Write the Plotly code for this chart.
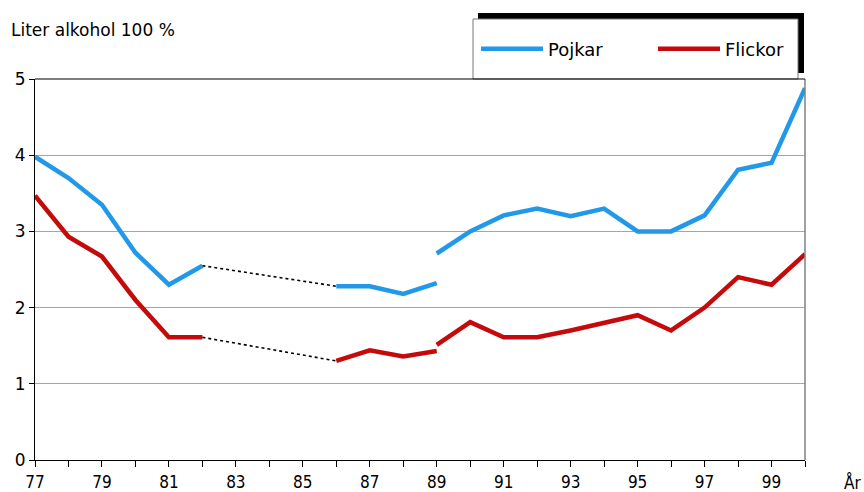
import plotly.graph_objects as go

# --- data ---
years_a = [77, 78, 79, 80, 81, 82]
pojkar_a = [3.98, 3.70, 3.35, 2.72, 2.30, 2.55]
flickor_a = [3.47, 2.93, 2.67, 2.10, 1.61, 1.61]

years_b = [86, 87, 88, 89]
pojkar_b = [2.28, 2.28, 2.18, 2.32]
flickor_b = [1.30, 1.44, 1.36, 1.43]

years_c = [89, 90, 91, 92, 93, 94, 95, 96, 97, 98, 99, 100]
pojkar_c = [2.71, 3.00, 3.21, 3.30, 3.20, 3.30, 3.00, 3.00, 3.21, 3.81, 3.90, 4.88]
flickor_c = [1.51, 1.81, 1.61, 1.61, 1.70, 1.80, 1.90, 1.70, 2.00, 2.40, 2.30, 2.70]

x_tickvals = [77, 79, 81, 83, 85, 87, 89, 91, 93, 95, 97, 99]
x_ticktext = ["77", "79", "81", "83", "85", "87", "89", "91", "93", "95", "97", "99"]

BLUE = "#2299E8"
RED = "#C40A0A"
LW = 4.5

fig = go.Figure()

series = [("Pojkar", BLUE, pojkar_a, pojkar_b, pojkar_c),
          ("Flickor", RED, flickor_a, flickor_b, flickor_c)]

for name, col, a, b, c in series:
    fig.add_trace(go.Scatter(x=years_a, y=a, mode="lines", name=name, legendgroup=name,
                             line=dict(color=col, width=LW), showlegend=True))
    fig.add_trace(go.Scatter(x=[years_a[-1], years_b[0]], y=[a[-1], b[0]], mode="lines",
                             legendgroup=name, showlegend=False,
                             line=dict(color="black", width=1.6, dash="dot")))
    fig.add_trace(go.Scatter(x=years_b, y=b, mode="lines", legendgroup=name, showlegend=False,
                             line=dict(color=col, width=LW)))
    fig.add_trace(go.Scatter(x=years_c, y=c, mode="lines", legendgroup=name, showlegend=False,
                             line=dict(color=col, width=LW)))

# plot area: x 35..805, y 79..460
W, H = 864, 492
L, R, T, B = 35, 59, 79, 32
pw, ph = W - L - R, H - T - B

def px_x(x):
    return (x - L) / pw

def px_y(y):
    return (H - B - y) / ph

shapes = [
    # legend shadow
    dict(type="rect", xref="paper", yref="paper", x0=px_x(478), x1=px_x(804), y0=px_y(73), y1=px_y(13),
         fillcolor="black", line=dict(width=0), layer="above"),
    # legend box
    dict(type="rect", xref="paper", yref="paper", x0=px_x(473), x1=px_x(798), y0=px_y(79), y1=px_y(19),
         fillcolor="white", line=dict(color="#777777", width=1), layer="above"),
    # right frame line
    dict(type="line", xref="paper", yref="paper", x0=1, x1=1, y0=0, y1=1,
         line=dict(color="#808080", width=1.5)),
    # top frame line
    dict(type="line", xref="paper", yref="paper", x0=0, x1=1, y0=1, y1=1,
         line=dict(color="black", width=1.2)),
]

fig.update_layout(
    width=W, height=H,
    margin=dict(l=L, r=R, t=T, b=B, autoexpand=False),
    paper_bgcolor="white", plot_bgcolor="white",
    font=dict(family="DejaVu Sans, Arial, sans-serif", size=16, color="black"),
    shapes=shapes,
    showlegend=True,
    legend=dict(orientation="h", x=px_x(476), y=px_y(49), xanchor="left", yanchor="middle",
                bgcolor="rgba(0,0,0,0)", borderwidth=0,
                font=dict(family="DejaVu Sans, Arial, sans-serif", size=18),
                itemwidth=62, entrywidth=100, traceorder="normal"),
    xaxis=dict(range=[77, 100], tickmode="array", tickvals=x_tickvals, ticktext=x_ticktext,
               ticks="outside", ticklen=6, tickcolor="black", showgrid=False, zeroline=False,
               showline=True, linecolor="black", linewidth=1.2,
               tickfont=dict(family="Liberation Sans Narrow, DejaVu Sans Condensed, Arial Narrow, sans-serif", size=17),
               minor=dict(tickmode="linear", tick0=77, dtick=1, ticks="outside", ticklen=6,
                          tickcolor="black", showgrid=False)),
    yaxis=dict(range=[0, 5], dtick=1, tick0=0, ticks="outside", ticklen=5, tickcolor="black",
               showgrid=True, gridcolor="#A6A6A6", gridwidth=1, zeroline=False,
               showline=True, linecolor="black", linewidth=1.2,
               tickfont=dict(family="DejaVu Sans, Arial, sans-serif", size=17)),
    annotations=[
        dict(text="Liter alkohol 100 %", xref="paper", yref="paper", x=px_x(9), y=px_y(30),
             xanchor="left", yanchor="middle", showarrow=False,
             font=dict(family="DejaVu Sans, Arial, sans-serif", size=17)),
        dict(text="År", xref="paper", yref="paper", x=px_x(842), y=px_y(482),
             xanchor="left", yanchor="middle", showarrow=False,
             font=dict(family="Liberation Sans Narrow, DejaVu Sans Condensed, Arial Narrow, sans-serif", size=17)),
    ],
)

fig.write_html("out.html", config={"displayModeBar": False},
               post_script="document.body.style.margin='0px';")
